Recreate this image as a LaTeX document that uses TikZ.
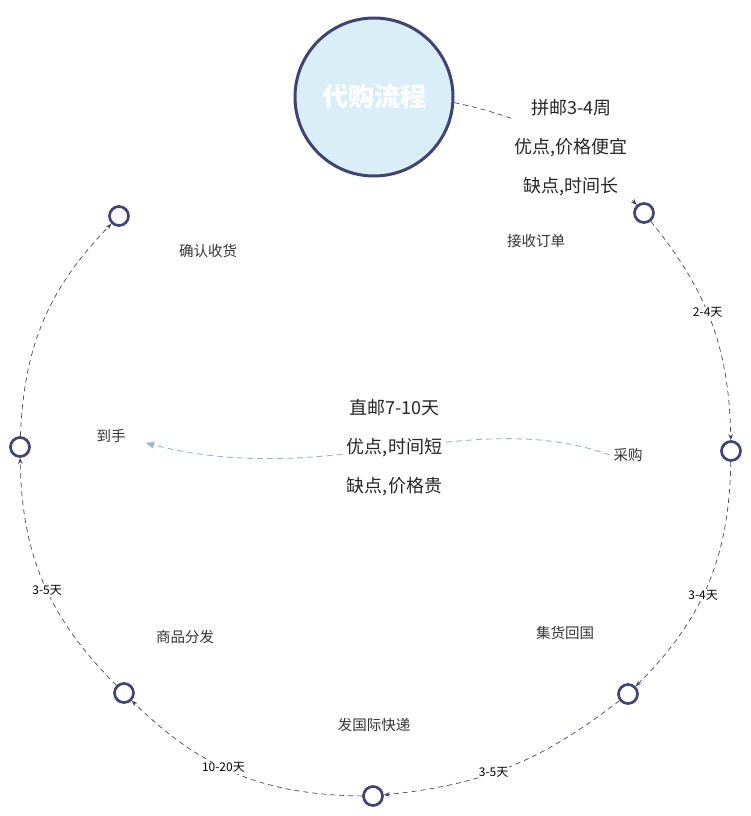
\documentclass[tikz,border=0pt]{standalone}
\usepackage{fontspec}
\newfontfamily\cjk{Noto Sans CJK SC}
\usetikzlibrary{arrows.meta}
\definecolor{navy}{HTML}{3F4472}
\definecolor{lightfill}{HTML}{DAEEF8}
\definecolor{linkblue}{HTML}{9DB4D0}
\definecolor{txt}{HTML}{333333}
\begin{document}
\begin{tikzpicture}[x=1pt,y=1pt,
  stage/.style={circle,draw=navy,line width=2.7pt,minimum size=19pt,inner sep=0pt,fill=white},
  flow/.style={draw=navy,dash pattern=on 5pt off 4pt,line width=0.7pt,-{Stealth[length=6pt,width=4.5pt]}},
  direct/.style={draw=linkblue,dash pattern=on 6pt off 4pt,line width=0.9pt,-{Triangle[length=8pt,width=7pt]}},
  lbl/.style={font=\cjk\fontsize{14.5}{16}\selectfont,text=txt},
  elbl/.style={font=\cjk\fontsize{12}{13}\selectfont,text=black,fill=white,inner sep=1pt},
  hand/.style={font=\cjk\fontsize{18}{39}\selectfont,align=center,text=black!85,fill=white,inner sep=3pt}]
\useasboundingbox (0,0) rectangle (750,-816);
% main circle
\node[circle,draw=navy,line width=3pt,fill=lightfill,minimum size=158pt,inner sep=0pt,
      font=\cjk\bfseries\fontsize{26}{30}\selectfont,text=white] (big) at (374,-97) {代购流程};
% stages
\node[stage] (A) at (644,-213) {};
\node[stage] (B) at (731,-451) {};
\node[stage] (C) at (628,-694) {};
\node[stage] (D) at (373,-796) {};
\node[stage] (E) at (124,-693) {};
\node[stage] (F) at (20,-447) {};
\node[stage] (G) at (119,-216) {};
% stage labels
\node[lbl] (la) at (536,-241) {接收订单};
\node[lbl] (caigou) at (628,-455) {采购};
\node[lbl] (lc) at (565,-633) {集货回国};
\node[lbl] (ld) at (374,-725) {发国际快递};
\node[lbl] (le) at (185,-637) {商品分发};
\node[lbl] (daoshou) at (111,-436) {到手};
\node[lbl] (lg) at (208,-251) {确认收货};
\coordinate (dtip) at (146,-443);
% ring connectors
\draw[flow] (A) to[bend left=19] node[elbl,pos=0.45] (e1) {2-4天} (B);
\draw[flow] (B) to[bend left=22] node[elbl,pos=0.55] (e2) {3-4天} (C);
\draw[flow] (C) to[bend left=16] node[elbl,pos=0.57] (e3) {3-5天} (D);
\draw[flow] (D) to[bend left=22] node[elbl,pos=0.56] (e4) {10-20天} (E);
\draw[flow] (E) to[bend left=22] node[elbl,pos=0.46] (e5) {3-5天} (F);
\draw[flow] (F) to[bend left=21] (G);
% consolidated shipping
\draw[flow] (big.-4) .. controls (560,-125) and (600,-165) .. node[hand,midway] (h1) {拼邮3-4周\\优点,价格便宜\\缺点,时间长} (A);
% direct shipping
\draw[direct] (caigou.west) .. controls (470,-405) and (330,-490) .. node[hand,midway] (h2) {直邮7-10天\\优点,时间短\\缺点,价格贵} (dtip);
\end{tikzpicture}
\end{document}
